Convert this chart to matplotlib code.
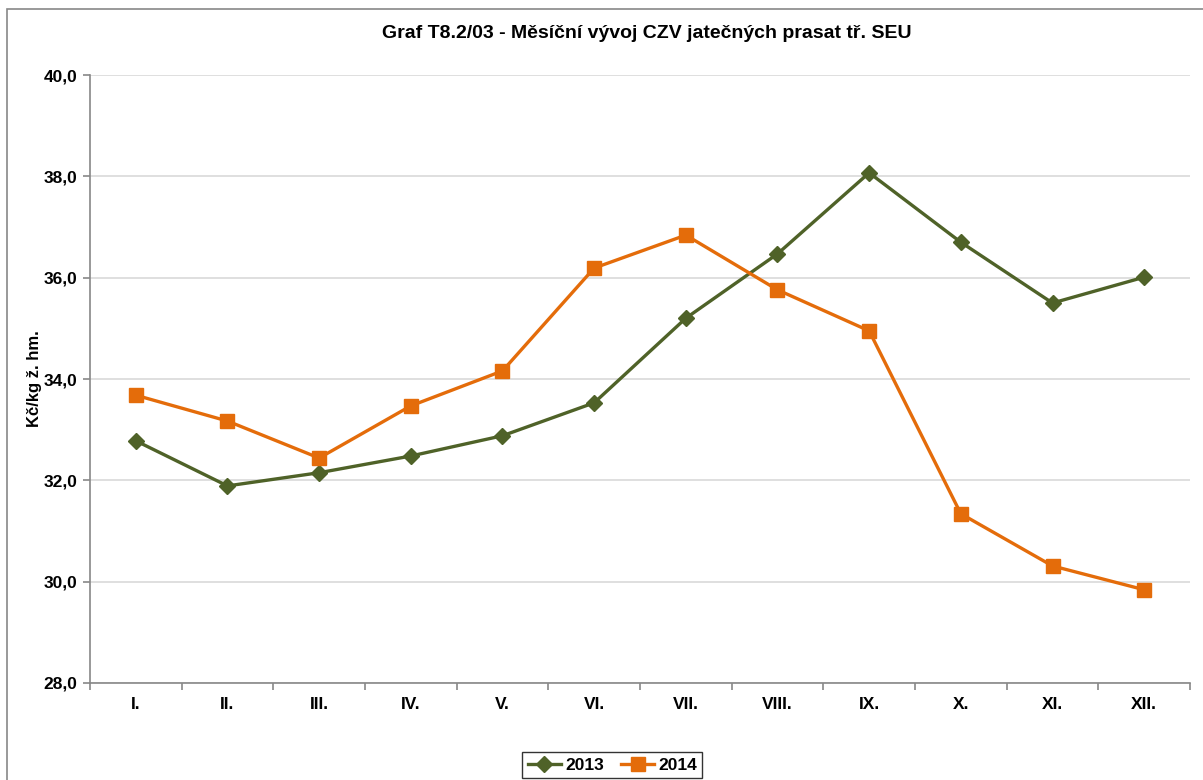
import matplotlib
matplotlib.use('Agg')
from matplotlib import pyplot as plt
from matplotlib.patches import Rectangle
from matplotlib.ticker import FixedLocator, FuncFormatter

plt.rcParams['font.family'] = ['Liberation Sans', 'DejaVu Sans']
plt.rcParams['font.weight'] = 'bold'

months = ['I.', 'II.', 'III.', 'IV.', 'V.', 'VI.', 'VII.', 'VIII.', 'IX.', 'X.', 'XI.', 'XII.']
y2013 = [32.78, 31.89, 32.15, 32.48, 32.88, 33.53, 35.20, 36.47, 38.07, 36.70, 35.50, 36.01]
y2014 = [33.68, 33.17, 32.44, 33.47, 34.16, 36.19, 36.84, 35.76, 34.95, 31.34, 30.31, 29.84]

green = '#4F6228'
orange = '#E46C0A'

fig = plt.figure(figsize=(12.03, 7.80), dpi=100)
ax = fig.add_axes([0.0748, 0.1244, 0.9144, 0.7794])

# outer chart frame (cut off at right and bottom like the reference)
fig.patches.append(Rectangle((0.006, -0.1), 1.1, 0.988 + 0.1, transform=fig.transFigure,
                             fill=False, edgecolor='#888888', linewidth=1.2))

x = range(len(months))
ax.plot(x, y2013, color=green, lw=2.4, marker='D', ms=8, label='2013')
ax.plot(x, y2014, color=orange, lw=2.4, marker='s', ms=9.5, label='2014')

ax.set_xlim(-0.5, 11.5)
ax.set_ylim(28, 40)
ax.set_yticks([28, 30, 32, 34, 36, 38, 40])
ax.yaxis.set_major_formatter(FuncFormatter(lambda v, p: f'{v:.1f}'.replace('.', ',')))
ax.grid(axis='y', color='#D9D9D9', lw=1.2)
ax.set_axisbelow(True)

ax.set_xticks(list(x))
ax.set_xticklabels(months)
ax.xaxis.set_minor_locator(FixedLocator([i - 0.5 for i in range(13)]))
ax.tick_params(axis='x', which='major', length=0, pad=10, labelsize=12.5)
ax.tick_params(axis='x', which='minor', length=5, color='#888888', width=1.2)
ax.tick_params(axis='y', length=5, color='#888888', width=1.2, labelsize=12.5, pad=4)

for s in ['top', 'right']:
    ax.spines[s].set_visible(False)
for s in ['left', 'bottom']:
    ax.spines[s].set_color('#888888')
    ax.spines[s].set_linewidth(1.2)

ax.set_ylabel('Kč/kg ž. hm.', fontsize=12, fontweight='bold', labelpad=1)
fig.text(0.538, 0.957, 'Graf T8.2/03 - Měsíční vývoj CZV jatečných prasat tř. SEU',
         ha='center', va='center', fontsize=14, fontweight='bold')

leg = fig.legend(loc='center', bbox_to_anchor=(0.509, 0.019), ncol=2, fontsize=12.5,
                 frameon=True, fancybox=False, edgecolor='black', handlelength=1.9,
                 columnspacing=1.0, handletextpad=0.25, borderpad=0.3)
leg.get_frame().set_linewidth(1.0)

fig.savefig('out.png', dpi=100)
